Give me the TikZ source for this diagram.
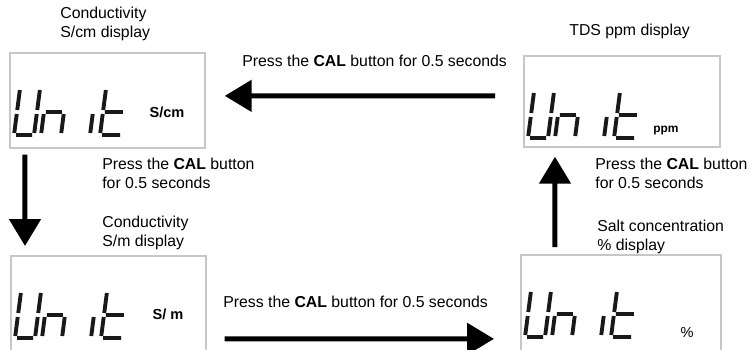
\documentclass[tikz,border=0pt]{standalone}
\usepackage{fontspec}
\setmainfont{Liberation Sans}
\usetikzlibrary{arrows.meta}

% word "Unit" in seven segments, then the unit
\newcommand{\lcdunit}[4]{%
  \begin{scope}[shift={(#1.north west)}]
    \begin{scope}[shift={(5,83)},xslant=0.13]
      \draw[seg] (0,-45)--(0,-25) (0,-21)--(0,-2) (2,0)--(18,0) (20,-21)--(20,-2) (20,-45)--(20,-25);
    \end{scope}
    \begin{scope}[shift={(32,83)},xslant=0.13]
      \draw[seg] (0,-21)--(0,-2) (2,-23)--(18,-23) (20,-21)--(20,-2);
    \end{scope}
    \begin{scope}[shift={(61,83)},xslant=0.13]
      \draw[seg] (20,-21)--(20,-2);
    \end{scope}
    \begin{scope}[shift={(91,83)},xslant=0.13]
      \draw[seg] (0,-45)--(0,-25) (0,-21)--(0,-2) (2,-23)--(20,-23) (2,0)--(20,0);
    \end{scope}
    \node[unitlabel] (#1unit) at (#3,#4) {#2};
  \end{scope}}

\begin{document}
\begin{tikzpicture}[x=0.02cm,y=-0.02cm,
    font=\fontsize{9}{10.5}\selectfont,
    lcd/.style={draw=black!22, line width=1pt, fill=white, anchor=north west,
      minimum width=3.9cm, minimum height=1.9cm, inner sep=0pt},
    seg/.style={line width=2.2pt, black!90},
    unitlabel/.style={font=\fontsize{8.3}{9}\selectfont\bfseries, inner sep=0pt},
    txt/.style={align=left, inner sep=0pt},
    bigarrow/.style={line width=0.1cm, -{Triangle[length=0.54cm,width=0.62cm]}}]
  \useasboundingbox (0,0) rectangle (748,349);
  \clip (0,0) rectangle (748,349);

  % the four displays
  \node[lcd] (scm) at (9,52) {};
  \node[lcd, minimum width=3.92cm, minimum height=1.82cm] (tds) at (523,55) {};
  \node[lcd, minimum height=1.94cm] (sm) at (10,255) {};
  \node[lcd, minimum width=4cm, minimum height=1.94cm] (salt) at (520,254) {};
  \lcdunit{scm}{S/cm}{158}{60}
  \lcdunit{tds}{\fontsize{6.8}{8}\selectfont ppm}{143}{76}
  \lcdunit{sm}{S/ m}{158}{59}
  \lcdunit{salt}{\mdseries\%}{167}{78}

  % captions
  \node[txt, anchor=north west] (scmtxt) at (60,7) {Conductivity\\S/cm display};
  \node[txt, anchor=base west] (tdstxt) at (569,35) {TDS ppm display};
  \node[txt, anchor=north west] (smtxt) at (102,216) {Conductivity\\S/m display};
  \node[txt, anchor=north west] (salttxt) at (597,220) {Salt concentration\\\% display};

  % Draw the arrows
  \node[txt, anchor=base west] (cal1) at (242,66) {Press the \textbf{CAL} button for 0.5 seconds};
  \draw[bigarrow] ([xshift=-0.56cm,yshift=0.11cm]tds.west) -- ([xshift=0.38cm,yshift=0.09cm]scm.east);
  \node[txt, anchor=north west] (cal2) at (102,158) {Press the \textbf{CAL} button\\for 0.5 seconds};
  \draw[bigarrow] ([xshift=0.32cm,yshift=-0.12cm]scm.south west) -- ([xshift=0.3cm,yshift=0.18cm]sm.north west);
  \node[txt, anchor=base west] (cal4) at (223,307) {Press the \textbf{CAL} button for 0.5 seconds};
  \draw[bigarrow] ([xshift=0.36cm,yshift=-0.69cm]sm.east) -- ([xshift=-0.52cm,yshift=-0.71cm]salt.west);
  \node[txt, anchor=north west] (cal3) at (595,158) {Press the \textbf{CAL} button\\for 0.5 seconds};
  \draw[bigarrow] ([xshift=0.7cm,yshift=0.14cm]salt.north west) -- ([xshift=0.64cm,yshift=-0.18cm]tds.south west);
\end{tikzpicture}
\end{document}
